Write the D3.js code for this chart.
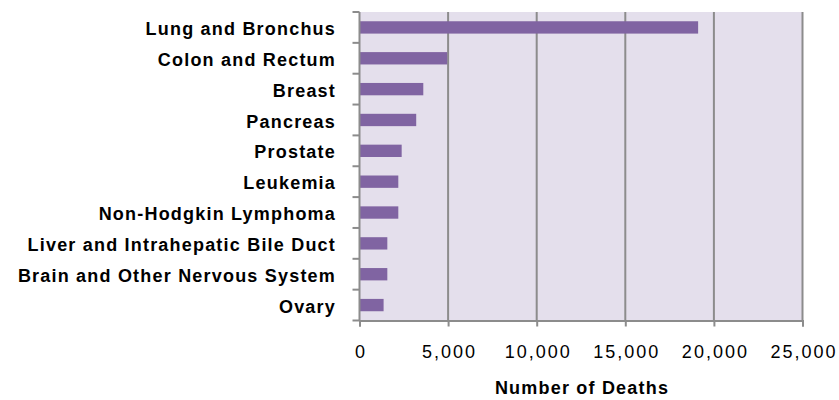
<!DOCTYPE html>
<html lang="en">
<head>
    <meta charset="UTF-8">
    <title>Cancer Deaths</title>
    <style>
        body { margin: 0; background: #fff; }
        .cat text { font-family: "Liberation Sans", Arial, sans-serif; font-weight: bold; font-size: 18px; letter-spacing: 1.2px; fill: #000; }
        .num text { font-family: "Liberation Sans", Arial, sans-serif; font-size: 18px; letter-spacing: 2px; fill: #000; }
    </style>
</head>
<body>
    <div id="chart"></div>
    <script src="https://d3js.org/d3.v7.min.js"></script>
    <script>
        const sites = ['Lung and Bronchus', 'Colon and Rectum', 'Breast', 'Pancreas', 'Prostate',
            'Leukemia', 'Non-Hodgkin Lymphoma', 'Liver and Intrahepatic Bile Duct',
            'Brain and Other Nervous System', 'Ovary']
        const deaths = [19110, 4950, 3600, 3200, 2380, 2190, 2190, 1570, 1570, 1360]
        const xTicks = [0, 5000, 10000, 15000, 20000, 25000]

        const width = 839
        const height = 400
        const plotLeft = 359.5, plotRight = 802.5, plotTop = 12, plotBottom = 320.5

        const svg = d3.select('#chart')
            .append('svg')
            .attr('width', width)
            .attr('height', height)

        const x = d3.scaleLinear().domain([0, 25000]).range([plotLeft, plotRight])
        const y = d3.scaleBand().domain(sites).range([plotTop, plotBottom]).paddingInner(0.6).paddingOuter(0.3)

        svg.append('rect')
            .attr('x', plotLeft).attr('y', plotTop)
            .attr('width', plotRight - plotLeft).attr('height', plotBottom - plotTop)
            .attr('fill', '#e4dfec')

        // vertical gridlines
        svg.selectAll('.grid')
            .data(xTicks.slice(1))
            .enter()
            .append('line')
            .attr('x1', d => x(d)).attr('x2', d => x(d))
            .attr('y1', plotTop).attr('y2', plotBottom)
            .attr('stroke', '#8c8c8c')
            .attr('stroke-width', 2)

        svg.selectAll('.bar')
            .data(deaths)
            .enter()
            .append('rect')
            .attr('x', x(0))
            .attr('y', (d, i) => y(sites[i]))
            .attr('width', d => x(d) - x(0))
            .attr('height', y.bandwidth())
            .attr('fill', '#8064a2')

        const xAxis = d3.axisBottom(x)
            .tickValues(xTicks)
            .tickFormat(d3.format(','))
            .tickSize(6)
            .tickPadding(19)
        svg.append('g')
            .attr('class', 'num')
            .attr('transform', `translate(0, ${plotBottom})`)
            .call(xAxis)
            .call(g => g.selectAll('line, path').attr('stroke', '#8c8c8c').attr('stroke-width', 2))
            .call(g => g.selectAll('text').attr('dx', '1px'))

        // category axis: ticks sit between categories
        const yEdge = d3.scaleLinear().domain([0, sites.length]).range([plotTop, plotBottom])
        const yAxis = svg.append('g').attr('class', 'cat')
        yAxis.append('line')
            .attr('x1', plotLeft).attr('x2', plotLeft).attr('y1', plotTop).attr('y2', plotBottom)
            .attr('stroke', '#8c8c8c').attr('stroke-width', 2)
        yAxis.selectAll('.tk')
            .data(d3.range(sites.length + 1))
            .enter()
            .append('line')
            .attr('x1', plotLeft - 7).attr('x2', plotLeft)
            .attr('y1', d => yEdge(d)).attr('y2', d => yEdge(d))
            .attr('stroke', '#8c8c8c').attr('stroke-width', 2)
        yAxis.selectAll('text')
            .data(sites)
            .enter()
            .append('text')
            .attr('x', 336)
            .attr('y', d => y(d) + y.bandwidth() / 2)
            .attr('dy', '0.42em')
            .attr('text-anchor', 'end')
            .text(d => d)

        svg.append('text')
            .attr('x', 582)
            .attr('y', 394)
            .attr('text-anchor', 'middle')
            .style('font-family', '"Liberation Sans", Arial, sans-serif')
            .style('font-weight', 'bold')
            .style('font-size', '18px')
            .style('letter-spacing', '1.2px')
            .text('Number of Deaths')
    </script>
</body>
</html>
